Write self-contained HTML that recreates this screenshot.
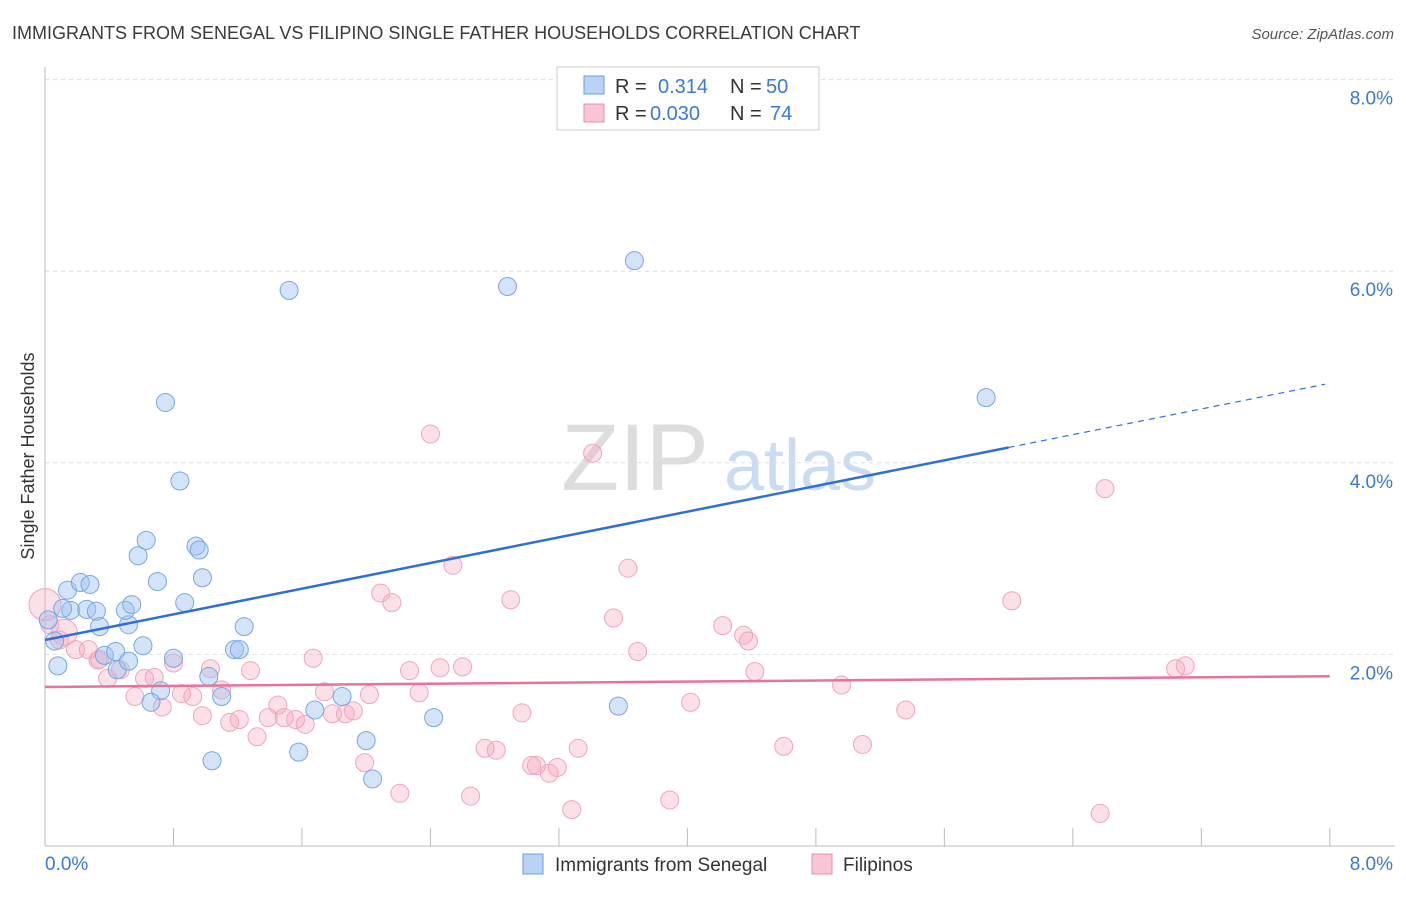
<!DOCTYPE html>
<html><head><meta charset="utf-8"><style>
body{margin:0;background:#fff;font-family:"Liberation Sans",sans-serif;}
svg text{font-family:"Liberation Sans",sans-serif;}
</style></head><body>
<svg id="chart" width="1406" height="892" viewBox="0 0 1406 892" xmlns="http://www.w3.org/2000/svg">
<text x="12" y="39" font-size="18" fill="#3a3a3a">IMMIGRANTS FROM SENEGAL VS FILIPINO SINGLE FATHER HOUSEHOLDS CORRELATION CHART</text>
<text x="1394" y="39" font-size="15" fill="#555" text-anchor="end" font-style="italic">Source: ZipAtlas.com</text>
<g>
<text x="635" y="490" font-size="95" fill="#ddd" text-anchor="middle" font-family="Liberation Serif">ZIP</text>
<text x="800" y="490" font-size="72" fill="#c9dcf2" text-anchor="middle">atlas</text>
</g>
<g id="grid"></g>
<g id="axes"></g>
<g id="points"></g>
<g id="trends"></g>
<text transform="translate(34,456) rotate(-90)" font-size="18" fill="#333" text-anchor="middle">Single Father Households</text>
<g>
<rect x="557" y="67" width="262" height="63" fill="#fff" stroke="#ccc"/>
<rect x="584" y="76" width="20" height="18" fill="#b9d2f5" stroke="#6a9be0"/>
<text x="615" y="93" font-size="20" fill="#333">R =</text><text x="658" y="93" font-size="20" fill="#3b78d8">0.314</text>
<text x="730" y="93" font-size="20" fill="#333">N =</text><text x="766" y="93" font-size="20" fill="#3b78d8">50</text>
<rect x="584" y="104" width="20" height="18" fill="#f9c5d5" stroke="#e890aa"/>
<text x="615" y="120" font-size="20" fill="#333">R =</text><text x="650" y="120" font-size="20" fill="#3b78d8">0.030</text>
<text x="730" y="120" font-size="20" fill="#333">N =</text><text x="770" y="120" font-size="20" fill="#3b78d8">74</text>
</g>
<g>
<rect x="523" y="854" width="20" height="20" fill="#b9d2f5" stroke="#6a9be0"/>
<text x="555" y="871" font-size="19" fill="#333">Immigrants from Senegal</text></g>
<g>
<rect x="812" y="854" width="20" height="20" fill="#f9c5d5" stroke="#e890aa"/>
<text x="843" y="871" font-size="19" fill="#333">Filipinos</text></g>
</svg>
<script>
const yTicks=[2,4,6,8];
const xTickLabels=["0.0%","8.0%"];
const blueX=[0.08,0.06,0.14,0.22,0.28,0.16,0.26,0.32,0.34,0.52,0.50,0.54,0.58,0.63,0.70,0.87,0.94,0.96,0.98,0.75,0.84,1.52,2.88,3.67,5.86,0.37,0.44,0.45,0.52,0.61,0.80,1.18,1.24,1.02,0.72,0.66,1.10,1.68,1.85,1.58,2.00,2.04,1.04,2.42,3.57,0.02,0.11,1.21];
const blueY=[1.88,2.14,2.67,2.75,2.73,2.46,2.47,2.45,2.29,2.31,2.46,2.52,3.03,3.19,2.76,2.54,3.13,3.09,2.80,4.63,3.81,5.80,5.84,6.11,4.68,1.99,2.03,1.84,1.93,2.09,1.96,2.05,2.29,1.77,1.62,1.50,1.56,1.42,1.56,0.98,1.10,0.70,0.89,1.34,1.46,2.36,2.48,2.05];
const pinkX=[0.00,0.03,0.09,0.19,0.27,0.33,0.39,0.47,0.56,0.62,0.68,0.73,0.80,0.85,0.92,0.98,1.03,1.10,1.15,1.21,1.32,1.28,1.39,1.45,1.49,1.56,1.62,1.67,1.74,1.79,1.87,1.92,2.02,1.99,2.09,2.16,2.21,2.27,2.33,2.40,2.46,2.54,2.60,2.65,2.74,2.81,2.90,2.97,3.03,3.06,3.14,3.19,3.28,3.32,3.41,3.54,3.63,3.69,3.89,4.02,4.22,4.35,4.38,4.42,4.60,4.96,5.09,5.36,6.02,6.57,6.60,7.04,7.10,0.34,0.12];
const pinkY=[2.52,2.31,2.15,2.05,2.05,1.94,1.75,1.84,1.56,1.75,1.76,1.45,1.91,1.59,1.56,1.36,1.85,1.63,1.29,1.32,1.14,1.83,1.34,1.47,1.34,1.32,1.27,1.96,1.61,1.38,1.38,1.41,1.58,0.87,2.64,2.54,0.55,1.83,1.60,4.30,1.86,2.93,1.87,0.52,1.02,1.00,2.57,1.39,0.84,0.84,0.76,0.82,0.38,1.02,4.10,2.38,2.90,2.03,0.48,1.50,2.30,2.20,2.14,1.82,1.04,1.68,1.06,1.42,2.56,0.34,3.73,1.85,1.88,1.95,2.23];
const blueTrend=[2.15,0.335]; // intercept, slope
const pinkTrend=[1.66,0.014];
const NS="http://www.w3.org/2000/svg";
const sx=v=>45+v*160.6, sy=v=>846-v*95.8;
function mk(tag,attrs,parent){const e=document.createElementNS(NS,tag);for(const k in attrs)e.setAttribute(k,attrs[k]);document.getElementById(parent).appendChild(e);return e;}
yTicks.forEach(t=>{
 const g=mk('line',{x1:45,x2:1395,y1:sy(t),y2:sy(t),stroke:'#ddd','stroke-dasharray':'4,4'},'grid');
 
 
 const l=mk('text',{x:1393,y:sy(t)+25,'font-size':19,fill:'#3b78d8','text-anchor':'end'},'grid');
 l.textContent=t.toFixed(1)+'%';
 
 
});
const ax=mk('line',{x1:45,x2:1395,y1:846,y2:846,stroke:'#bbb'},'axes');


const ay=mk('line',{x1:45,x2:45,y1:67,y2:846,stroke:'#bbb'},'axes');


for(let i=0;i<=10;i++){const t=mk('line',{x1:sx(i*0.8),x2:sx(i*0.8),y1:828,y2:846,stroke:'#bbb'},'axes');
 
 }
[[0,"start",45],[1,"end",1393]].forEach(([i,a,x])=>{const l=mk('text',{x:x,y:870,'font-size':19,fill:'#3b78d8','text-anchor':a},'axes');l.textContent=xTickLabels[i];
 
 });
pinkX.forEach((x,i)=>{const c=mk('circle',{cx:sx(x),cy:sy(pinkY[i]),r:i==0?16:(i==74?13:9),fill:'rgba(245,165,190,0.35)',stroke:'#eea5bb','stroke-width':1},'points');
 
 });
blueX.forEach((x,i)=>{const c=mk('circle',{cx:sx(x),cy:sy(blueY[i]),r:9,fill:'rgba(160,195,240,0.45)',stroke:'#78a5e4','stroke-width':1},'points');
 
 });
const bt=x=>blueTrend[0]+blueTrend[1]*x, pt=x=>pinkTrend[0]+pinkTrend[1]*x;
const b1=mk('line',{x1:sx(0),y1:sy(bt(0)),x2:sx(6.0),y2:sy(bt(6.0)),stroke:'#2f6fd6','stroke-width':2.5},'trends');


const b2=mk('line',{x1:sx(6.0),y1:sy(bt(6.0)),x2:sx(7.97),y2:sy(bt(7.97)),stroke:'#2f6fd6','stroke-width':1.2,'stroke-dasharray':'6,5'},'trends');


const p1=mk('line',{x1:sx(0),y1:sy(pt(0)),x2:sx(8),y2:sy(pt(8)),stroke:'#e8739a','stroke-width':2.5},'trends');


</script>
</body></html>
